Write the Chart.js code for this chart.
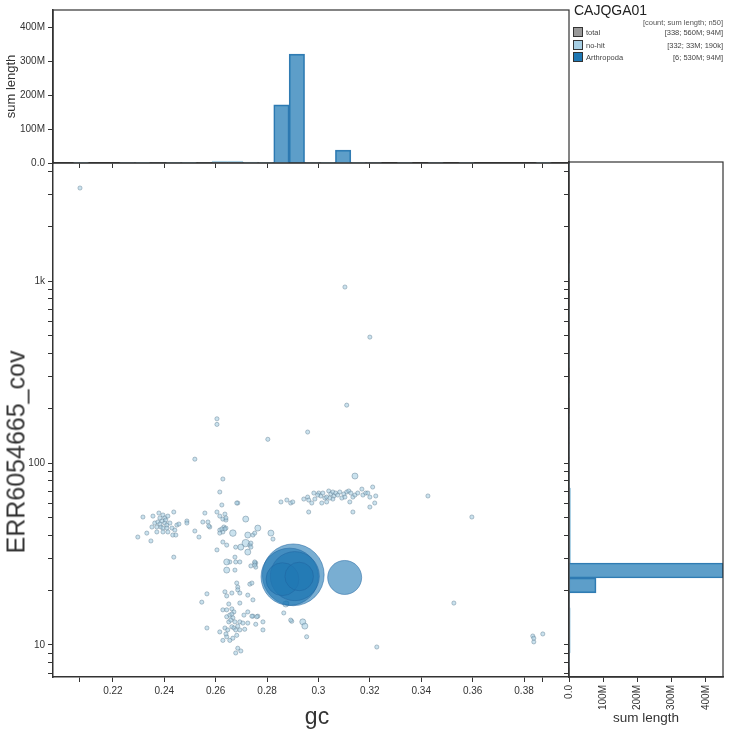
<!DOCTYPE html>
<html>
<head>
<meta charset="utf-8">
<script src="https://cdn.jsdelivr.net/npm/chart.js@4.4.1/dist/chart.umd.min.js"></script>
<style>
  body { margin: 0; background: #fff; font-family: "Liberation Sans", Arial, sans-serif; }
  #wrap { position: relative; width: 729px; height: 730px; }
  #wrap canvas { position: absolute; left: 0; top: 0; }
  .axis-title { position: absolute; color: #333; white-space: nowrap; transform: translate(-50%, -50%); }
  #ytitle { left: 16px; top: 452px; font-size: 25px; transform: translate(-50%, -50%) rotate(-90deg); }
  #xtitle { left: 317px; top: 716px; font-size: 23px; }
  #legend { position: absolute; left: 573px; top: 0; width: 150px; height: 70px; color: #222; }
  #legend .title { position: absolute; left: 1px; top: 2px; font-size: 14px; }
  #legend .head { position: absolute; right: 0; top: 18px; font-size: 7.5px; color: #555; }
  #legend .row { position: absolute; left: 0; width: 150px; height: 12px; font-size: 7.5px; color: #444; }
  #legend .sw { position: absolute; left: 0; top: 0; width: 8px; height: 8px; border: 1px solid #333; }
  #legend .name { position: absolute; left: 13px; top: 1px; }
  #legend .val { position: absolute; right: 0; top: 1px; }
</style>
</head>
<body>
<div id="wrap">
  <canvas id="scatter" width="729" height="730"></canvas>
  <canvas id="gcHist" width="729" height="730"></canvas>
  <canvas id="covHist" width="729" height="730"></canvas>
  <div id="ytitle" class="axis-title"></div>
  <div id="xtitle" class="axis-title"></div>
  <div id="legend"></div>
</div>
<script>
// blob plot: gc vs coverage, with sum-length histograms on both margins
const assemblyName = "CAJQGA01";
const xTitle = "gc";
const yTitle = "ERR6054665_cov";
const legendNames = ["total", "no-hit", "Arthropoda"];
const legendCounts = [338, 332, 6];
const legendSpans = ["560M", "33M", "530M"];
const legendN50s = ["94M", "190k", "94M"];
const legendColors = ["#999999", "#a6cee3", "#1f78b4"];

const gcTicks = [0.22, 0.24, 0.26, 0.28, 0.3, 0.32, 0.34, 0.36, 0.38];
const gcExtent = [0.2072, 0.3873];
const covTicks = [7, 8, 9, 10, 20, 30, 40, 50, 60, 70, 80, 90, 100, 200, 300, 400, 500, 600, 700, 800, 900, 1000, 2000, 3000, 4000];
const covLabels = { 10: "10", 100: "100", 1000: "1k" };
const sumTicks = [0, 100e6, 200e6, 300e6, 400e6];

// Arthropoda contigs: gc, coverage, length (Mb)
const arthContigs = [
  [0.2902, 24.3, 183],
  [0.2888, 23.7, 150],
  [0.2908, 23.9, 100],
  [0.2860, 23.0, 35],
  [0.2925, 23.8, 24],
  [0.3102, 23.5, 38],
];

// no-hit contigs: gc, coverage, length (kb)
const noHitContigs = [
  [0.2072, 3245, 150], [0.3103, 927, 150], [0.3200, 492, 150], [0.3110, 208, 150],
  [0.2958, 148, 150], [0.2605, 175, 150], [0.2605, 163, 150], [0.2803, 135, 150],
  [0.2519, 105, 150], [0.2628, 81.7, 150], [0.2616, 69.3, 150], [0.2624, 58.8, 150],
  [0.2686, 60.3, 150], [0.2854, 61.1, 150], [0.2877, 62.6, 150], [0.2892, 60.3, 150],
  [0.3142, 84.8, 400], [0.3211, 73.8, 150], [0.3426, 65.9, 150], [0.3597, 50.5, 150],
  [0.3527, 17.0, 150], [0.3227, 9.75, 150], [0.3834, 11.2, 150], [0.3838, 10.4, 150],
  [0.3838, 10.9, 150], [0.3873, 11.5, 150],
  // gc 0.29-0.32, cov ~65
  [0.2900, 61.1, 150], [0.2943, 63.4, 150], [0.2958, 65.0, 150], [0.2962, 62.6, 150],
  [0.2982, 68.4, 150], [0.2986, 63.4, 150], [0.3001, 68.4, 150], [0.3009, 65.9, 150],
  [0.3017, 68.4, 150], [0.3025, 64.2, 150], [0.3032, 65.0, 150], [0.3040, 70.2, 150],
  [0.3048, 67.6, 150], [0.3056, 69.3, 150], [0.3060, 65.9, 150], [0.3067, 68.4, 150],
  [0.3075, 66.7, 150], [0.3083, 69.3, 150], [0.3091, 64.2, 150], [0.3099, 67.6, 150],
  [0.3110, 69.3, 150], [0.3118, 70.2, 150], [0.3126, 68.4, 150], [0.3134, 65.0, 150],
  [0.3142, 66.7, 150], [0.3153, 68.4, 150], [0.3169, 71.9, 150], [0.3173, 66.7, 150],
  [0.3184, 68.4, 150], [0.3192, 68.4, 150], [0.3200, 65.0, 150], [0.3223, 65.9, 150],
  [0.3219, 60.3, 150], [0.3200, 57.3, 150], [0.3013, 60.3, 150], [0.3032, 61.1, 150],
  [0.3122, 61.1, 150], [0.2962, 53.8, 150], [0.3134, 53.8, 150], [0.3056, 63.4, 150],
  [0.2974, 60.3, 150], [0.2997, 66.7, 150], [0.3044, 64.2, 150], [0.3103, 65.0, 150],
  // gc 0.23-0.26, cov ~45
  [0.2317, 50.5, 150], [0.2356, 51.1, 150], [0.2379, 53.1, 150], [0.2395, 51.8, 150],
  [0.2402, 49.9, 150], [0.2414, 51.1, 150], [0.2437, 53.8, 150], [0.2363, 46.8, 150],
  [0.2375, 47.4, 150], [0.2391, 48.0, 150], [0.2402, 46.8, 150], [0.2410, 45.6, 150],
  [0.2422, 46.8, 150], [0.2352, 44.5, 150], [0.2371, 44.5, 150], [0.2387, 44.5, 150],
  [0.2395, 43.9, 150], [0.2410, 43.9, 150], [0.2430, 43.9, 150], [0.2449, 45.6, 150],
  [0.2441, 42.8, 150], [0.2457, 46.2, 150], [0.2332, 41.2, 150], [0.2371, 41.8, 150],
  [0.2395, 41.8, 150], [0.2414, 41.8, 150], [0.2297, 39.2, 150], [0.2348, 37.3, 150],
  [0.2433, 40.2, 150], [0.2445, 40.2, 150], [0.2437, 30.4, 150], [0.2383, 49.9, 150],
  [0.2406, 48.6, 150], [0.2383, 46.2, 150], [0.2488, 48.0, 150], [0.2488, 46.8, 150],
  [0.2519, 42.3, 150], [0.2535, 39.2, 150], [0.2550, 47.4, 150], [0.2558, 53.1, 150],
  [0.2570, 47.4, 150], [0.2577, 44.5, 150], [0.2573, 45.1, 150],
  // gc 0.26-0.28, cov 30-55
  [0.2605, 53.8, 150], [0.2616, 51.1, 150], [0.2628, 49.2, 150], [0.2636, 52.4, 150],
  [0.2640, 48.6, 150], [0.2640, 49.9, 150], [0.2616, 42.8, 150], [0.2628, 41.8, 150],
  [0.2616, 41.2, 150], [0.2632, 44.5, 150], [0.2640, 43.9, 150], [0.2624, 43.4, 150],
  [0.2636, 43.4, 150], [0.2667, 41.2, 500], [0.2682, 60.3, 150], [0.2605, 33.3, 150],
  [0.2628, 36.8, 150], [0.2643, 35.4, 150], [0.2717, 49.2, 400], [0.2764, 43.9, 400],
  [0.2725, 40.2, 400], [0.2745, 40.2, 150], [0.2717, 36.3, 700], [0.2698, 34.5, 400],
  [0.2678, 34.5, 150], [0.2733, 35.4, 150], [0.2725, 32.4, 400], [0.2675, 30.4, 150],
  [0.2823, 38.2, 150], [0.2815, 41.2, 400], [0.2752, 41.2, 150], [0.2737, 36.3, 150],
  [0.2737, 34.5, 150],
  // gc 0.26-0.28, cov 9-30
  [0.2655, 28.6, 150], [0.2756, 28.2, 150], [0.2756, 26.8, 150], [0.2643, 28.6, 400],
  [0.2643, 25.8, 400], [0.2675, 25.8, 150], [0.2678, 28.6, 150], [0.2694, 28.6, 150],
  [0.2737, 27.2, 150], [0.2752, 28.2, 150], [0.2752, 28.6, 150], [0.2752, 27.5, 150],
  [0.2682, 21.9, 150], [0.2686, 20.8, 150], [0.2733, 21.6, 150], [0.2686, 20.1, 150],
  [0.2741, 21.9, 150], [0.2566, 19.1, 150], [0.2546, 17.2, 150], [0.2636, 19.6, 150],
  [0.2643, 18.6, 150], [0.2663, 19.3, 150], [0.2694, 19.3, 150], [0.2725, 18.8, 150],
  [0.2745, 17.7, 150], [0.2651, 16.8, 150], [0.2694, 17.0, 150], [0.2628, 15.6, 150],
  [0.2643, 15.6, 150], [0.2663, 15.8, 150], [0.2671, 15.2, 150], [0.2725, 15.2, 150],
  [0.2745, 14.4, 150], [0.2764, 14.4, 150], [0.2643, 14.3, 150], [0.2655, 14.6, 150],
  [0.2667, 14.1, 150], [0.2675, 13.4, 150], [0.2694, 13.4, 150], [0.2706, 13.2, 150],
  [0.2725, 13.2, 150], [0.2756, 13.0, 150], [0.2784, 13.4, 150], [0.2566, 12.4, 150],
  [0.2616, 11.8, 150], [0.2636, 12.4, 150], [0.2647, 12.1, 150], [0.2663, 12.6, 150],
  [0.2671, 12.4, 150], [0.2694, 12.1, 150], [0.2713, 12.2, 150], [0.2784, 12.1, 150],
  [0.2628, 10.6, 150], [0.2643, 11.1, 150], [0.2655, 10.6, 150], [0.2667, 10.9, 150],
  [0.2682, 11.3, 150], [0.2686, 9.6, 150], [0.2678, 9.04, 150], [0.2698, 9.27, 150],
  [0.2651, 13.4, 150], [0.2659, 13.7, 150], [0.2686, 12.7, 150], [0.2710, 14.6, 150],
  [0.2640, 11.5, 150], [0.2678, 12.1, 150], [0.2663, 14.8, 150], [0.2741, 14.4, 150],
  [0.2760, 14.3, 150],
  // below the big circles
  [0.2865, 15.0, 150], [0.2896, 13.5, 150], [0.2877, 17.0, 150], [0.2939, 13.4, 400],
  [0.2947, 12.7, 400], [0.2954, 11.1, 150], [0.2892, 13.7, 150], [0.2873, 16.8, 400],
];

// gc histogram (sum length, Mb per bin)
const gcBinStart = 0.1986;
const gcBinWidth = 0.006;
const noHitGcHist = [0, 0.3, 0, 0, 0.2, 0.8, 1.5, 1.2, 0.8, 1.5, 5.5, 5.5, 2.5, 1.2, 1, 1.5, 1.3, 1, 0.8, 0.6, 0.2, 0, 0.1, 0, 0.1, 0, 0.1, 0, 0, 0, 0, 0.3, 0];
const arthGcHist = [0, 0, 0, 0, 0, 0, 0, 0, 0, 0, 0, 0, 0, 0, 171, 320, 0, 0, 38, 0, 0, 0, 0, 0, 0, 0, 0, 0, 0, 0, 0, 0, 0];

// coverage histogram (log10 bins, Mb per bin)
const covLogStart = 0.874;
const covLogWidth = 0.0824;
const noHitCovHist = [0.2, 4, 4, 4, 2.5, 3, 2, 5, 5, 5, 5, 5, 0.6, 0.3, 0.2, 0.1, 0.1, 0, 0.1, 0, 0.1, 0, 0, 0.1, 0, 0, 0.1, 0, 0, 0, 0, 0, 0, 0.1];
const arthCovHist = [0, 0, 0, 0, 0, 79, 451, 0, 0, 0, 0, 0, 0, 0, 0, 0, 0, 0, 0, 0, 0, 0, 0, 0, 0, 0, 0, 0, 0, 0, 0, 0, 0, 0];

const gcMin = 0.1967, gcMax = 0.3975;
const covMin = 6.67, covMax = 4510;
const sumMax = 450e6;

const font = "'Liberation Sans', Arial, sans-serif";
const axisColor = "#333";
const radiusFor = (bp) => Math.max(1.6, 17 * Math.pow(bp / 38e6, 0.38));
const sumLabel = (v) => (v === 0 ? "0.0" : v / 1e6 + "M");

document.getElementById("xtitle").textContent = xTitle;
document.getElementById("ytitle").textContent = yTitle;

// legend
const legend = document.getElementById("legend");
let html = `<div class="title">${assemblyName}</div><div class="head">[count; sum length; n50]</div>`;
legendNames.forEach((name, i) => {
  html += `<div class="row" style="top:${27 + i * 12.5}px"><span class="sw" style="background:${legendColors[i]}"></span>` +
    `<span class="name">${name}</span>` +
    `<span class="val">[${legendCounts[i]}; ${legendSpans[i]}; ${legendN50s[i]}]</span></div>`;
});
legend.innerHTML = html;

Chart.defaults.font.family = font;
Chart.defaults.color = axisColor;
Chart.defaults.animation = false;
Chart.defaults.plugins.legend.display = false;
Chart.defaults.plugins.tooltip.enabled = false;

const frame = {
  id: "frame",
  afterDraw(chart) {
    const { ctx, chartArea: a } = chart;
    ctx.save();
    ctx.strokeStyle = axisColor;
    ctx.lineWidth = 1.2;
    ctx.strokeRect(a.left, a.top, a.right - a.left, a.bottom - a.top);
    ctx.restore();
  },
};

const gcTickValues = [...gcTicks, ...gcExtent].sort((a, b) => a - b);
const barStyle = { barThickness: "flex", categoryPercentage: 1, barPercentage: 1, borderWidth: 1 };

// main scatter
new Chart(document.getElementById("scatter"), {
  type: "bubble",
  data: {
    datasets: [
      {
        label: "Arthropoda",
        data: arthContigs.map(([gc, cov, mb]) => ({ x: gc, y: cov, r: radiusFor(mb * 1e6) })),
        backgroundColor: "rgba(31, 120, 180, 0.6)",
        borderColor: "rgba(31, 100, 160, 0.5)",
        borderWidth: 1,
      },
      {
        label: "no-hit",
        data: noHitContigs.map(([gc, cov, kb]) => ({ x: gc, y: cov, r: radiusFor(kb * 1e3) })),
        backgroundColor: "rgba(166, 206, 227, 0.6)",
        borderColor: "rgba(90, 120, 140, 0.55)",
        borderWidth: 0.8,
      },
    ],
  },
  options: {
    responsive: false,
    devicePixelRatio: 1,
    layout: { padding: { left: 0, right: 160, top: 162, bottom: 0 } },
    scales: {
      x: {
        type: "linear",
        min: gcMin,
        max: gcMax,
        afterFit: (s) => { s.height = 53; },
        afterBuildTicks: (s) => { s.ticks = gcTickValues.map((v) => ({ value: v })); },
        ticks: {
          autoSkip: false,
          maxRotation: 0,
          font: { size: 10 },
          callback: (v) => (gcTicks.includes(v) ? String(v) : ""),
        },
        grid: { drawOnChartArea: false, tickLength: 5, color: axisColor },
        border: { color: axisColor, width: 1.5 },
      },
      y: {
        type: "logarithmic",
        min: covMin,
        max: covMax,
        afterFit: (s) => { s.width = 53; },
        afterBuildTicks: (s) => { s.ticks = covTicks.map((v) => ({ value: v })); },
        ticks: {
          autoSkip: false,
          font: { size: 10 },
          callback: (v) => covLabels[v] || "",
        },
        grid: { drawOnChartArea: false, tickLength: 5, color: axisColor },
        border: { color: axisColor, width: 1.5 },
      },
    },
  },
});

// top histogram: sum length by gc
const gcCentres = noHitGcHist.map((_, i) => gcBinStart + (i + 0.5) * gcBinWidth);
new Chart(document.getElementById("gcHist"), {
  type: "bar",
  data: {
    datasets: [
      {
        label: "Arthropoda",
        data: arthGcHist.map((v, i) => ({ x: gcCentres[i], y: v * 1e6 })),
        backgroundColor: "rgba(31, 120, 180, 0.72)",
        borderColor: "rgba(31, 110, 170, 0.9)",
        ...barStyle,
      },
      {
        label: "no-hit",
        data: noHitGcHist.map((v, i) => ({ x: gcCentres[i], y: v * 1e6 })),
        backgroundColor: "rgba(166, 206, 227, 0.75)",
        borderColor: "rgba(166, 206, 227, 0.9)",
        ...barStyle,
      },
    ],
  },
  options: {
    responsive: false,
    devicePixelRatio: 1,
    layout: { padding: { left: 0, right: 160, top: 10, bottom: 0 } },
    scales: {
      x: {
        type: "linear",
        stacked: true,
        min: gcMin,
        max: gcMax,
        offset: false,
        afterFit: (s) => { s.height = 567; },
        afterBuildTicks: (s) => { s.ticks = gcTickValues.map((v) => ({ value: v })); },
        ticks: { autoSkip: false, maxRotation: 0, callback: () => "" },
        grid: { offset: false, drawOnChartArea: false, tickLength: 5, color: axisColor },
        border: { color: axisColor, width: 1.5 },
      },
      y: {
        type: "linear",
        stacked: false,
        min: 0,
        max: sumMax,
        afterFit: (s) => { s.width = 53; },
        afterBuildTicks: (s) => { s.ticks = sumTicks.map((v) => ({ value: v })); },
        ticks: { font: { size: 10 }, callback: sumLabel },
        grid: { drawOnChartArea: false, tickLength: 5, color: axisColor },
        border: { color: axisColor, width: 1.5 },
        title: { display: true, text: "sum length", font: { size: 13 } },
      },
    },
  },
  plugins: [frame],
});

// right histogram: sum length by coverage
const covCentres = noHitCovHist.map((_, i) => Math.pow(10, covLogStart + (i + 0.5) * covLogWidth));
new Chart(document.getElementById("covHist"), {
  type: "bar",
  data: {
    datasets: [
      {
        label: "Arthropoda",
        data: arthCovHist.map((v, i) => ({ y: covCentres[i], x: v * 1e6 })),
        backgroundColor: "rgba(31, 120, 180, 0.72)",
        borderColor: "rgba(31, 110, 170, 0.9)",
        ...barStyle,
      },
      {
        label: "no-hit",
        data: noHitCovHist.map((v, i) => ({ y: covCentres[i], x: v * 1e6 })),
        backgroundColor: "rgba(166, 206, 227, 0.75)",
        borderColor: "rgba(166, 206, 227, 0.9)",
        ...barStyle,
      },
    ],
  },
  options: {
    responsive: false,
    devicePixelRatio: 1,
    indexAxis: "y",
    layout: { padding: { left: 559, right: 6, top: 162, bottom: 0 } },
    scales: {
      y: {
        type: "logarithmic",
        stacked: true,
        min: covMin,
        max: covMax,
        offset: false,
        afterFit: (s) => { s.width = 10; },
        afterBuildTicks: (s) => { s.ticks = covTicks.map((v) => ({ value: v })); },
        ticks: { autoSkip: false, callback: () => "" },
        grid: { offset: false, drawOnChartArea: false, tickLength: 5, color: axisColor },
        border: { color: axisColor, width: 1.5 },
      },
      x: {
        type: "linear",
        stacked: false,
        min: 0,
        max: sumMax,
        afterFit: (s) => { s.height = 53; },
        afterBuildTicks: (s) => { s.ticks = sumTicks.map((v) => ({ value: v })); },
        ticks: {
          autoSkip: false,
          minRotation: 90,
          maxRotation: 90,
          font: { size: 10 },
          callback: sumLabel,
        },
        grid: { drawOnChartArea: false, tickLength: 5, color: axisColor },
        border: { color: axisColor, width: 1.5 },
        title: { display: true, text: "sum length", font: { size: 13.5 } },
      },
    },
  },
  plugins: [frame],
});
</script>
</body>
</html>
